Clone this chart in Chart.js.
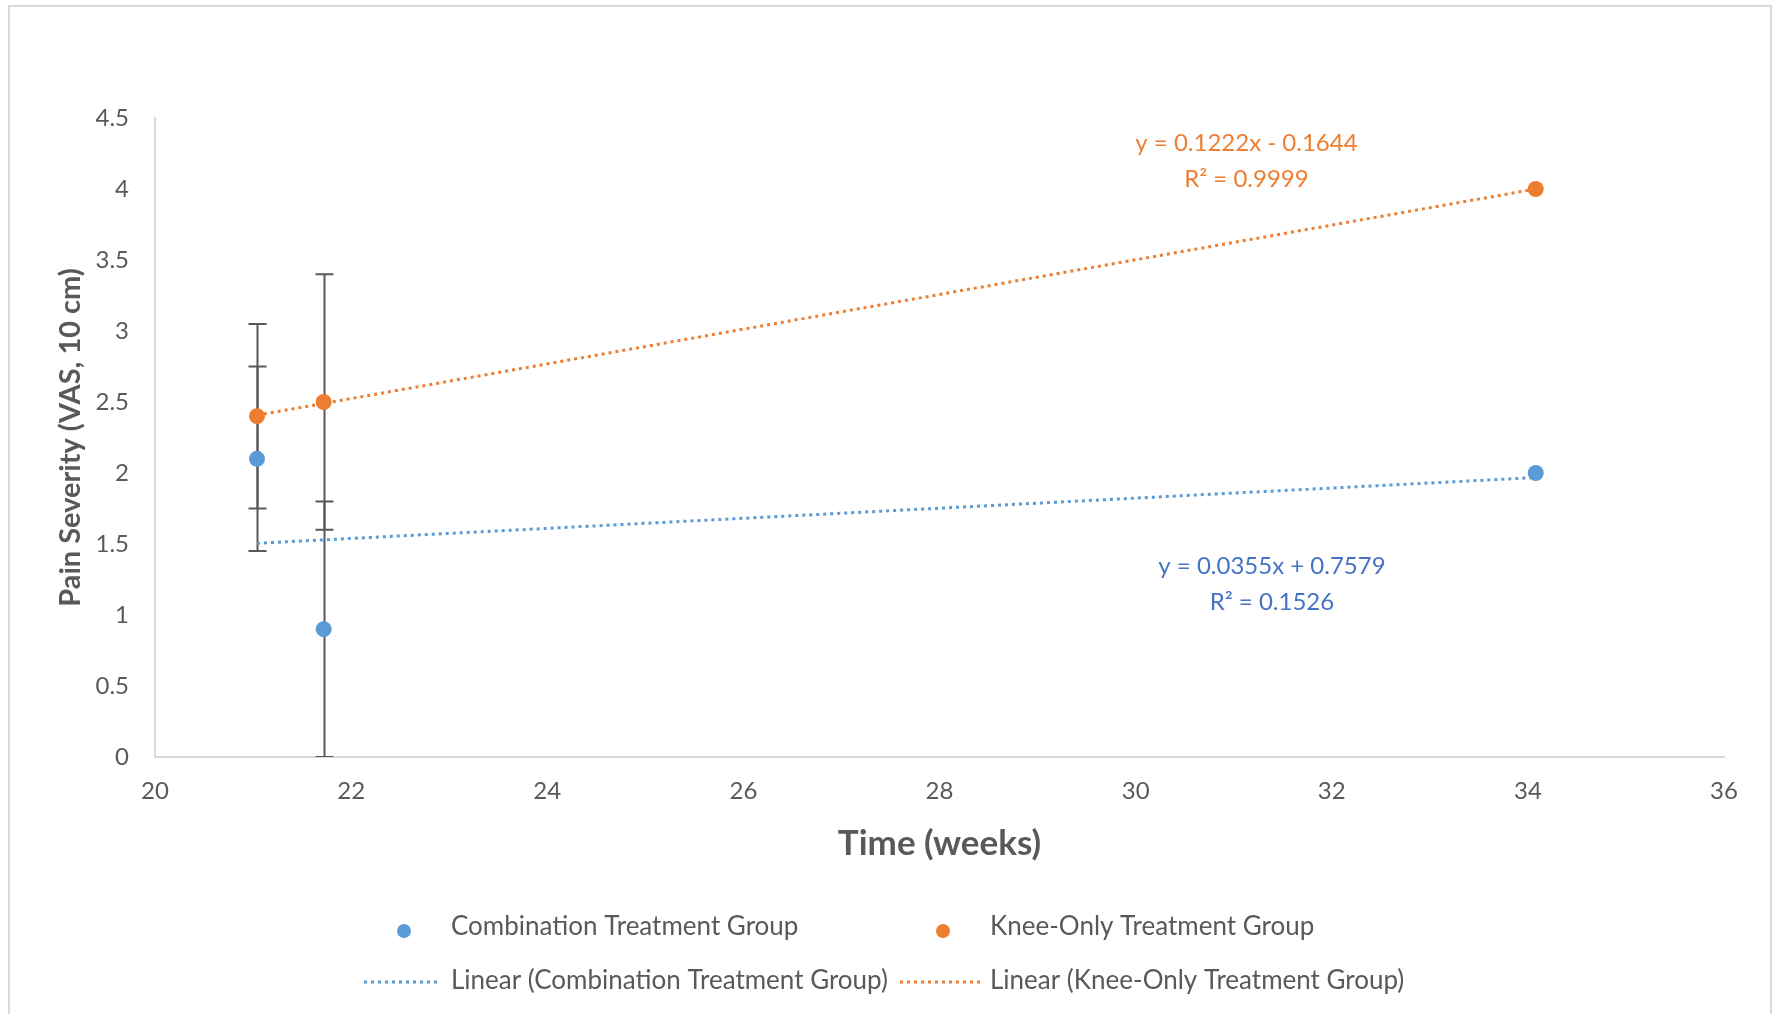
<!DOCTYPE html>
<html>
<head>
<meta charset="utf-8">
<script src="https://cdn.jsdelivr.net/npm/chart.js@4"></script>
<style>
  html, body { margin: 0; padding: 0; background: #fff; }
  #wrap { width: 1775px; height: 1014px; position: relative; }
</style>
</head>
<body>
<div id="wrap"><canvas id="myChart" width="1775" height="1014"></canvas></div>
<script>
// data
const comboX = [21.04, 21.72, 34.08];
const comboY = [2.1, 0.9, 2.0];
const comboErr = [0.65, 0.9, null];

const kneeX = [21.04, 21.72, 34.08];
const kneeY = [2.4, 2.5, 4.0];
const kneeErr = [0.65, 0.9, null];

// trendline end points
const trendX = [21.04, 34.08];
const comboTrend = [1.505, 1.968];
const kneeTrend = [2.407, 4.0];

const xTicks = [20, 22, 24, 26, 28, 30, 32, 34, 36];
const yTicks = [0, 0.5, 1, 1.5, 2, 2.5, 3, 3.5, 4, 4.5];

const BLUE = '#5B9BD5';
const ORANGE = '#ED7D31';
const GREY = '#595959';
const FONT = 'Lato, "Open Sans", sans-serif';

function pts(xs, ys) {
    return xs.map((x, i) => ({ x: x, y: ys[i] }));
}

const errorBars = {
    id: 'errorBars',
    beforeDatasetsDraw(chart) {
        const { ctx, scales: { x, y }, chartArea } = chart;
        ctx.save();
        ctx.beginPath();
        ctx.rect(chartArea.left, chartArea.top - 10, chartArea.width, chartArea.height + 10);
        ctx.clip();
        ctx.strokeStyle = GREY;
        ctx.lineWidth = 2;
        const sets = [[comboX, comboY, comboErr], [kneeX, kneeY, kneeErr]];
        sets.forEach(([xs, ys, es]) => {
            xs.forEach((xv, i) => {
                if (es[i] == null) return;
                const px = Math.round(x.getPixelForValue(xv)) + 0.5;
                const top = y.getPixelForValue(ys[i] + es[i]);
                const bot = y.getPixelForValue(ys[i] - es[i]);
                ctx.beginPath();
                ctx.moveTo(px, top);
                ctx.lineTo(px, bot);
                ctx.moveTo(px - 9, top);
                ctx.lineTo(px + 9, top);
                ctx.moveTo(px - 9, bot);
                ctx.lineTo(px + 9, bot);
                ctx.stroke();
            });
        });
        ctx.restore();
    }
};

const extras = {
    id: 'extras',
    afterDraw(chart) {
        const { ctx, scales: { x, y } } = chart;
        ctx.save();
        // chart area border
        ctx.strokeStyle = '#d9d9d9';
        ctx.lineWidth = 2;
        ctx.strokeRect(9, 6, 1762, 1020);

        // trendline equations
        ctx.font = '24px ' + FONT;
        ctx.textAlign = 'center';
        ctx.textBaseline = 'middle';
        ctx.fillStyle = ORANGE;
        const ox = x.getPixelForValue(31.13);
        ctx.fillText('y = 0.1222x - 0.1644', ox, y.getPixelForValue(4.32));
        ctx.fillText('R² = 0.9999', ox, y.getPixelForValue(4.07));
        ctx.fillStyle = '#4472C4';
        const bx = x.getPixelForValue(31.39);
        ctx.fillText('y = 0.0355x + 0.7579', bx, y.getPixelForValue(1.34));
        ctx.fillText('R² = 0.1526', bx, y.getPixelForValue(1.09));

        // legend
        ctx.textAlign = 'left';
        ctx.font = '26px ' + FONT;
        const r1 = 927, r2 = 981;
        ctx.beginPath();
        ctx.fillStyle = BLUE;
        ctx.arc(404, r1 + 4, 7, 0, Math.PI * 2);
        ctx.fill();
        ctx.beginPath();
        ctx.fillStyle = ORANGE;
        ctx.arc(943, r1 + 4, 7, 0, Math.PI * 2);
        ctx.fill();
        ctx.fillStyle = GREY;
        ctx.fillText('Combination Treatment Group', 451, r1);
        ctx.fillText('Knee-Only Treatment Group', 990, r1);
        ctx.fillText('Linear (Combination Treatment Group)', 451, r2);
        ctx.fillText('Linear (Knee-Only Treatment Group)', 990, r2);
        ctx.lineWidth = 3;
        ctx.setLineDash([3, 4]);
        ctx.strokeStyle = BLUE;
        ctx.beginPath();
        ctx.moveTo(364, r2 + 1);
        ctx.lineTo(439, r2 + 1);
        ctx.stroke();
        ctx.strokeStyle = ORANGE;
        ctx.beginPath();
        ctx.moveTo(900, r2 + 1);
        ctx.lineTo(980, r2 + 1);
        ctx.stroke();
        ctx.restore();
    }
};

function init() {
    const ctx = document.getElementById('myChart').getContext('2d');
    new Chart(ctx, {
        type: 'scatter',
        data: {
            datasets: [
                {
                    label: 'Linear (Combination Treatment Group)',
                    type: 'line',
                    data: pts(trendX, comboTrend),
                    borderColor: BLUE,
                    borderWidth: 3,
                    borderDash: [3, 4],
                    pointRadius: 0,
                    fill: false
                },
                {
                    label: 'Linear (Knee-Only Treatment Group)',
                    type: 'line',
                    data: pts(trendX, kneeTrend),
                    borderColor: ORANGE,
                    borderWidth: 3,
                    borderDash: [3, 4],
                    pointRadius: 0,
                    fill: false
                },
                {
                    label: 'Combination Treatment Group',
                    data: pts(comboX, comboY),
                    backgroundColor: BLUE,
                    borderColor: BLUE,
                    pointRadius: 8,
                    pointBorderWidth: 0
                },
                {
                    label: 'Knee-Only Treatment Group',
                    data: pts(kneeX, kneeY),
                    backgroundColor: ORANGE,
                    borderColor: ORANGE,
                    pointRadius: 8,
                    pointBorderWidth: 0
                }
            ]
        },
        options: {
            responsive: false,
            animation: false,
            layout: { padding: { top: 118, right: 51, left: 0, bottom: 149 } },
            plugins: {
                legend: { display: false },
                tooltip: { enabled: false }
            },
            scales: {
                x: {
                    type: 'linear',
                    min: xTicks[0],
                    max: xTicks[xTicks.length - 1],
                    afterBuildTicks: s => { s.ticks = xTicks.map(v => ({ value: v })); },
                    afterFit: s => { s.height = 108; },
                    grid: { display: false, drawTicks: false },
                    border: { display: true, color: '#d9d9d9', width: 2 },
                    ticks: {
                        color: GREY,
                        font: { family: FONT, size: 24 },
                        padding: 20,
                        maxRotation: 0
                    },
                    title: {
                        display: true,
                        text: 'Time (weeks)',
                        color: GREY,
                        font: { family: FONT, size: 35, weight: 'bold' },
                        padding: { top: 0, bottom: 0 }
                    }
                },
                y: {
                    min: yTicks[0],
                    max: yTicks[yTicks.length - 1],
                    afterBuildTicks: s => { s.ticks = yTicks.map(v => ({ value: v })); },
                    afterFit: s => { s.width = 155; },
                    grid: { display: false, drawTicks: false },
                    border: { display: true, color: '#d9d9d9', width: 2 },
                    ticks: {
                        color: GREY,
                        font: { family: FONT, size: 24 },
                        padding: 26,
                        callback: v => String(v)
                    },
                    title: {
                        display: true,
                        text: 'Pain Severity (VAS, 10 cm)',
                        color: GREY,
                        font: { family: FONT, size: 29, weight: 'bold' },
                        padding: { top: 53, bottom: 0 }
                    }
                }
            }
        },
        plugins: [errorBars, extras]
    });
}

document.addEventListener('DOMContentLoaded', init);
</script>
</body>
</html>
